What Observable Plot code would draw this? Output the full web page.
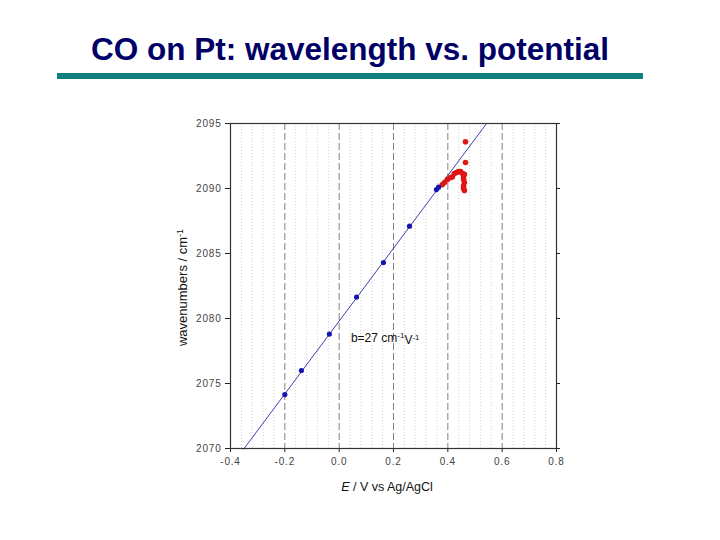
<!DOCTYPE html>
<html><head><meta charset="utf-8">
<script src="https://cdn.jsdelivr.net/npm/d3@7"></script>
<script src="https://cdn.jsdelivr.net/npm/@observablehq/plot@0.6"></script>
<style>
body{margin:0;background:#fff;width:720px;height:540px;position:relative;overflow:hidden;font-family:"Liberation Sans",Arial,sans-serif;}
#title{position:absolute;left:0;width:700px;top:31px;text-align:center;font-weight:bold;font-size:31.5px;color:#000066;white-space:nowrap;}
#bar{position:absolute;left:57px;width:586px;top:73px;height:6px;background:#0f7f7f;}
#chart{position:absolute;left:0;top:0;}
</style></head>
<body>
<div id="chart"></div>
<div id="title">CO on Pt: wavelength vs. potential</div>
<div id="bar"></div>
<script>
// Data
const blueE = [-0.200, -0.139, -0.036, 0.064, 0.163, 0.259, 0.358, 0.366];
const blueW = [2074.15, 2076.0, 2078.8, 2081.65, 2084.3, 2087.1, 2089.92, 2090.1];
const redE = [0.380, 0.388, 0.399, 0.410, 0.417, 0.424, 0.432, 0.439, 0.447, 0.454, 0.458, 0.461, 0.458, 0.461, 0.458, 0.458, 0.461, 0.465, 0.465];
const redW = [2090.3, 2090.46, 2090.7, 2090.85, 2090.9, 2091.15, 2091.23, 2091.3, 2091.3, 2091.15, 2090.9, 2091.1, 2090.7, 2090.46, 2090.2, 2090.0, 2089.85, 2092.0, 2093.6];
const fitE = [-0.352, 0.542];
const fitW = [2069.94, 2094.98];
const xTicks = [-0.4, -0.2, 0.0, 0.2, 0.4, 0.6, 0.8];
const yTicks = [2070, 2075, 2080, 2085, 2090, 2095];
const majorGrid = [-0.2, 0.0, 0.2, 0.4, 0.6];
const minorGrid = [-0.36,-0.32,-0.28,-0.24,-0.16,-0.12,-0.08,-0.04,0.04,0.08,0.12,0.16,0.24,0.28,0.32,0.36,0.44,0.48,0.52,0.56,0.64,0.68,0.72,0.76];
const annE = 0.045, annW = 2078.5;

const blue = blueE.map((e,i)=>({e, w: blueW[i]}));
const red = redE.map((e,i)=>({e, w: redW[i]}));
const fit = fitE.map((e,i)=>({e, w: fitW[i]}));

const plot = Plot.plot({
  width: 720, height: 540,
  marginLeft: 230, marginRight: 164, marginTop: 123, marginBottom: 92,
  style: {fontFamily: "'Liberation Sans', Arial, sans-serif", fontSize: "10px", color: "#444", background: "transparent"},
  x: {domain: [-0.4, 0.8]},
  y: {domain: [2070, 2095]},
  marks: [
    Plot.ruleX(minorGrid, {stroke: "#cfcfcf", strokeDasharray: "1,2", strokeWidth: 1}),
    Plot.ruleX(majorGrid, {stroke: "#808080", strokeDasharray: "7,3", strokeWidth: 1}),
    Plot.axisX({ticks: xTicks, tickSize: 4, tickPadding: 5, label: null, tickFormat: d => d.toFixed(1), stroke: "#222"}),
    Plot.axisY({ticks: yTicks, tickSize: 5, tickPadding: 4, label: null, tickFormat: d => String(d), stroke: "#222"}),
    Plot.axisY({anchor: "right", ticks: yTicks, tickSize: 3, label: null, tickFormat: () => "", stroke: "#222"}),
    Plot.line(fit, {x: "e", y: "w", stroke: "#2a2aa0", strokeWidth: 0.9}),
    Plot.dot(red, {x: "e", y: "w", r: 2.8, fill: "#e01515", stroke: "none"}),
    Plot.dot(blue, {x: "e", y: "w", r: 2.6, fill: "#1515b0", stroke: "none"}),
    Plot.frame({stroke: "#333", strokeWidth: 1.2})
  ]
});
document.getElementById("chart").appendChild(plot);

const svg = d3.select(plot);
svg.selectAll("g[aria-label='x-axis tick label'] text, g[aria-label='y-axis tick label'] text").style("letter-spacing", "0.8px");
const sx = plot.scale("x"), sy = plot.scale("y");
const font = "'Liberation Sans', Arial, sans-serif";

// annotation
const ann = svg.append("text").attr("x", sx.apply(annE)).attr("y", sy.apply(annW))
  .attr("text-anchor", "start")
  .attr("font-family", font).attr("font-size", 12).attr("fill", "#111").attr("dy", "0.35em");
ann.append("tspan").text("b=27 cm");
ann.append("tspan").attr("dy", "-0.45em").attr("font-size", 8).text("-1");
ann.append("tspan").attr("dy", "0.45em").text("V");
ann.append("tspan").attr("dy", "-0.45em").attr("font-size", 8).text("-1");

// x axis label
const xl = svg.append("text").attr("x", (sx.range[0]+sx.range[1])/2 - 6).attr("y", 491)
  .attr("text-anchor", "middle").attr("font-family", font).attr("font-size", 12.5).attr("fill", "#111");
xl.append("tspan").attr("font-style", "italic").text("E");
xl.append("tspan").text(" / V vs Ag/AgCl");

// y axis label
const yl = svg.append("text").attr("transform", `translate(187,${(sy.range[0]+sy.range[1])/2 + 2}) rotate(-90)`)
  .attr("text-anchor", "middle").attr("font-family", font).attr("font-size", 13).attr("fill", "#111");
yl.append("tspan").text("wavenumbers / cm");
yl.append("tspan").attr("dy", "-0.5em").attr("font-size", 9).text("-1");
</script>
</body></html>
